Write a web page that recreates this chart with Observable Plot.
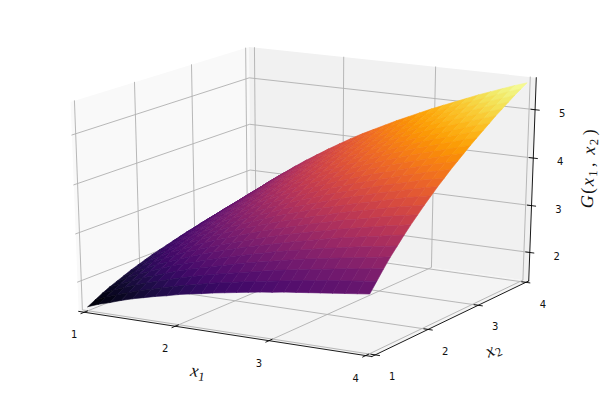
<!DOCTYPE html>
<html><head><meta charset="utf-8">
<style>html,body{margin:0;padding:0;background:#fff}svg{display:block}</style>
<script src="https://cdn.jsdelivr.net/npm/d3@7"></script>
<script src="https://cdn.jsdelivr.net/npm/@observablehq/plot@0.6"></script>
</head><body><div id="chart"></div>
<script>
const x1Values=[1,1.125,1.25,1.375,1.5,1.625,1.75,1.875,2,2.125,2.25,2.375,2.5,2.625,2.75,2.875,3,3.125,3.25,3.375,3.5,3.625,3.75,3.875,4];
const x2Values=[1,1.125,1.25,1.375,1.5,1.625,1.75,1.875,2,2.125,2.25,2.375,2.5,2.625,2.75,2.875,3,3.125,3.25,3.375,3.5,3.625,3.75,3.875,4];
// G(x1,x2); one row per x1, one column per x2
const G=[
[1.47,1.55,1.63,1.70,1.76,1.82,1.88,1.93,1.98,2.03,2.07,2.11,2.15,2.19,2.23,2.26,2.30,2.33,2.36,2.39,2.42,2.44,2.47,2.50,2.52],
[1.56,1.65,1.73,1.80,1.88,1.94,2.00,2.06,2.12,2.17,2.22,2.26,2.31,2.35,2.39,2.43,2.47,2.50,2.54,2.57,2.60,2.63,2.66,2.69,2.72],
[1.63,1.73,1.82,1.90,1.98,2.05,2.12,2.18,2.24,2.30,2.35,2.40,2.45,2.50,2.54,2.59,2.63,2.67,2.70,2.74,2.78,2.81,2.84,2.88,2.91],
[1.71,1.81,1.91,2.00,2.08,2.16,2.23,2.30,2.36,2.42,2.48,2.54,2.59,2.64,2.69,2.73,2.78,2.82,2.86,2.90,2.94,2.98,3.01,3.05,3.08],
[1.78,1.89,1.99,2.08,2.17,2.25,2.33,2.40,2.47,2.54,2.60,2.66,2.72,2.77,2.82,2.87,2.92,2.97,3.01,3.06,3.10,3.14,3.18,3.21,3.25],
[1.84,1.95,2.06,2.16,2.26,2.34,2.43,2.50,2.58,2.65,2.71,2.78,2.84,2.90,2.95,3.01,3.06,3.11,3.15,3.20,3.25,3.29,3.33,3.37,3.41],
[1.90,2.02,2.13,2.24,2.34,2.43,2.52,2.60,2.68,2.75,2.82,2.89,2.95,3.01,3.07,3.13,3.19,3.24,3.29,3.34,3.39,3.43,3.48,3.52,3.56],
[1.95,2.08,2.20,2.31,2.41,2.51,2.60,2.69,2.77,2.85,2.92,2.99,3.06,3.13,3.19,3.25,3.31,3.37,3.42,3.47,3.52,3.57,3.62,3.67,3.71],
[2.01,2.14,2.26,2.38,2.49,2.59,2.68,2.77,2.86,2.94,3.02,3.09,3.17,3.24,3.30,3.37,3.43,3.49,3.54,3.60,3.65,3.70,3.75,3.80,3.85],
[2.06,2.19,2.32,2.44,2.55,2.66,2.76,2.85,2.95,3.03,3.11,3.19,3.27,3.34,3.41,3.48,3.54,3.60,3.66,3.72,3.78,3.83,3.88,3.94,3.99],
[2.10,2.25,2.38,2.50,2.62,2.73,2.83,2.93,3.03,3.12,3.20,3.28,3.36,3.44,3.51,3.58,3.65,3.71,3.78,3.84,3.90,3.95,4.01,4.06,4.12],
[2.15,2.30,2.43,2.56,2.68,2.80,2.90,3.01,3.11,3.20,3.29,3.37,3.45,3.53,3.61,3.68,3.75,3.82,3.89,3.95,4.01,4.07,4.13,4.19,4.24],
[2.19,2.34,2.48,2.62,2.74,2.86,2.97,3.08,3.18,3.28,3.37,3.46,3.54,3.62,3.70,3.78,3.85,3.92,3.99,4.06,4.12,4.18,4.25,4.30,4.36],
[2.23,2.39,2.53,2.67,2.80,2.92,3.04,3.15,3.25,3.35,3.45,3.54,3.63,3.71,3.79,3.87,3.95,4.02,4.09,4.16,4.23,4.29,4.36,4.42,4.48],
[2.27,2.43,2.58,2.72,2.86,2.98,3.10,3.21,3.32,3.43,3.52,3.62,3.71,3.80,3.88,3.96,4.04,4.12,4.19,4.26,4.33,4.40,4.47,4.53,4.59],
[2.31,2.47,2.63,2.77,2.91,3.04,3.16,3.28,3.39,3.50,3.60,3.70,3.79,3.88,3.97,4.05,4.13,4.21,4.29,4.36,4.43,4.50,4.57,4.64,4.70],
[2.34,2.51,2.67,2.82,2.96,3.09,3.22,3.34,3.45,3.56,3.67,3.77,3.87,3.96,4.05,4.14,4.22,4.30,4.38,4.46,4.53,4.60,4.67,4.74,4.81],
[2.38,2.55,2.71,2.87,3.01,3.15,3.27,3.40,3.52,3.63,3.74,3.84,3.94,4.04,4.13,4.22,4.31,4.39,4.47,4.55,4.63,4.70,4.77,4.84,4.91],
[2.41,2.59,2.75,2.91,3.06,3.20,3.33,3.46,3.58,3.69,3.80,3.91,4.01,4.11,4.21,4.30,4.39,4.47,4.56,4.64,4.72,4.79,4.87,4.94,5.01],
[2.44,2.62,2.79,2.95,3.10,3.25,3.38,3.51,3.63,3.75,3.87,3.98,4.08,4.18,4.28,4.38,4.47,4.56,4.64,4.73,4.81,4.89,4.96,5.04,5.11],
[2.47,2.66,2.83,2.99,3.15,3.29,3.43,3.56,3.69,3.81,3.93,4.04,4.15,4.25,4.35,4.45,4.54,4.64,4.72,4.81,4.89,4.97,5.05,5.13,5.21],
[2.50,2.69,2.87,3.03,3.19,3.34,3.48,3.62,3.75,3.87,3.99,4.10,4.21,4.32,4.42,4.52,4.62,4.71,4.80,4.89,4.98,5.06,5.14,5.22,5.30],
[2.53,2.72,2.90,3.07,3.23,3.38,3.53,3.67,3.80,3.93,4.05,4.17,4.28,4.39,4.49,4.59,4.69,4.79,4.88,4.97,5.06,5.15,5.23,5.31,5.39],
[2.56,2.75,2.94,3.11,3.27,3.43,3.57,3.72,3.85,3.98,4.11,4.22,4.34,4.45,4.56,4.66,4.77,4.86,4.96,5.05,5.14,5.23,5.31,5.40,5.48],
[2.59,2.78,2.97,3.15,3.31,3.47,3.62,3.76,3.90,4.03,4.16,4.28,4.40,4.51,4.62,4.73,4.83,4.93,5.03,5.13,5.22,5.31,5.40,5.48,5.56]];
const x1Ticks=[1,2,3,4],x2Ticks=[1,2,3,4],zTicks=[2,3,4,5];
const lim={x:[0.9375,4.0625],y:[0.9375,4.0625],z:[1.385,5.655]};
const el=20*Math.PI/180,az=-60*Math.PI/180,dist=10,Kx=3350,Ky=2195,tx=307,ty=194;
const n=[Math.cos(el)*Math.cos(az),Math.cos(el)*Math.sin(az),Math.sin(el)];
const norm=v=>{const l=Math.hypot(...v);return v.map(a=>a/l)};
const cross=(a,b)=>[a[1]*b[2]-a[2]*b[1],a[2]*b[0]-a[0]*b[2],a[0]*b[1]-a[1]*b[0]];
const U=norm(cross([0,0,1],n)),Vv=cross(n,U);
const dot=(a,b)=>a[0]*b[0]+a[1]*b[1]+a[2]*b[2];
function proj(x,y,z){
  const p=[(x-lim.x[0])/(lim.x[1]-lim.x[0])-.5,(y-lim.y[0])/(lim.y[1]-lim.y[0])-.5,(z-lim.z[0])/(lim.z[1]-lim.z[0])-.5];
  const q=[p[0]-dist*n[0],p[1]-dist*n[1],p[2]-dist*n[2]];
  const d=-dot(q,n);
  return {px:tx+Kx*dot(q,U)/d,py:ty-Ky*dot(q,Vv)/d,depth:d};
}
const [x0,x9]=lim.x,[y0,y9]=lim.y,[z0,z9]=lim.z;
function poly(id,pts,extra={}){return pts.map(p=>({id,...proj(...p),...extra}))}
const panes=[
 ...poly("left",[[x0,y0,z0],[x0,y9,z0],[x0,y9,z9],[x0,y0,z9]],{c:"#f9f9f9"}),
 ...poly("back",[[x0,y9,z0],[x9,y9,z0],[x9,y9,z9],[x0,y9,z9]],{c:"#f1f1f1"}),
 ...poly("floor",[[x0,y0,z0],[x9,y0,z0],[x9,y9,z0],[x0,y9,z0]],{c:"#f4f4f4"})];
const grid=[
 ...x1Ticks.flatMap(t=>poly("gx"+t,[[t,y0,z0],[t,y9,z0],[t,y9,z9]])),
 ...x2Ticks.flatMap(t=>poly("gy"+t,[[x9,t,z0],[x0,t,z0],[x0,t,z9]])),
 ...zTicks.flatMap(t=>poly("gz"+t,[[x0,y0,t],[x0,y9,t],[x9,y9,t]]))];
const axes=[
 ...poly("ax",[[x0,y0,z0],[x9,y0,z0]]),
 ...poly("ay",[[x9,y0,z0],[x9,y9,z0]]),
 ...poly("az",[[x9,y9,z0],[x9,y9,z9]])];
const dxT=(x9-x0)*0.014,dyT=(y9-y0)*0.018;
const ticks=[
 ...x1Ticks.flatMap(t=>poly("tx"+t,[[t,y0+dyT,z0],[t,y0-dyT,z0]])),
 ...x2Ticks.flatMap(t=>poly("ty"+t,[[x9-dxT,t,z0],[x9+dxT,t,z0]])),
 ...zTicks.flatMap(t=>poly("tz"+t,[[x9-dxT,y9,t],[x9+dxT,y9,t]]))];
const faces=[];
for(let i=0;i<x1Values.length-1;i++)for(let j=0;j<x2Values.length-1;j++){
  const cs=[[i,j],[i+1,j],[i+1,j+1],[i,j+1],[i,j]].map(([a,b])=>proj(x1Values[a],x2Values[b],G[a][b]));
  const v=(G[i][j]+G[i+1][j]+G[i+1][j+1]+G[i][j+1])/4;
  faces.push({id:i+"_"+j,cs,v,depth:d3.mean(cs,c=>c.depth)});
}
faces.sort((a,b)=>b.depth-a.depth);
const surf=faces.flatMap(f=>f.cs.map(c=>({id:f.id,v:f.v,px:c.px,py:c.py})));
const common={x:"px",y:"py"};
const tl={fontSize:10,fontFamily:"DejaVu Sans",fill:"#111",text:"t",...common};
const al={fontSize:18,fontFamily:"Liberation Serif",fill:"#111",text:"t",...common};
const plot=Plot.plot({width:600,height:400,margin:0,
 x:{domain:[0,600],range:[0,600],axis:null},
 y:{domain:[0,400],range:[0,400],axis:null},
 color:{type:"linear",scheme:"inferno",domain:[1.47,5.56]},
 style:{background:"#fff"},
 marks:[
  Plot.line(panes,{...common,z:"id",fill:d=>d.c,stroke:null}),
  Plot.line(grid,{...common,z:"id",stroke:"#b0b0b0",strokeWidth:.9}),
  Plot.line(axes,{...common,z:"id",stroke:"#000",strokeWidth:.9}),
  Plot.line(ticks,{...common,z:"id",stroke:"#000",strokeWidth:.9}),
  Plot.line(surf,{...common,z:"id",fill:"v",stroke:"v",strokeWidth:.6}),
  Plot.text(x1Ticks.map(t=>({t:String(t),...proj(t,y0,z0)})),{...tl,dx:-10,dy:23}),
  Plot.text(x2Ticks.map(t=>({t:String(t),...proj(x9,t,z0)})),{...tl,dx:17,dy:22}),
  Plot.text(zTicks.map(t=>({t:String(t),...proj(x9,y9,t)})),{...tl,dx:27,dy:4}),
  Plot.text([{t:"x1",...proj(2.5,y0,z0)}],{...al,dx:-23,dy:38,rotate:9}),
  Plot.text([{t:"x2",...proj(x9,2.5,z0)}],{...al,dx:40,dy:32,rotate:-24}),
  Plot.text([{t:"G(x1,x2)",...proj(x9,y9,(z0+z9)/2)}],{...al,dx:56,dy:-13,rotate:-88})
 ]});
const it=s=>`<tspan font-style="italic">${s}</tspan>`;
const sub=s=>`<tspan dy="3" font-size="12.5">${s}</tspan><tspan dy="-3" font-size="1"> </tspan>`;
const rich={"x1":it("x")+sub("1"),"x2":it("x")+sub("2"),"G(x1,x2)":it("G")+"("+it("x")+sub("1")+", "+it("x")+sub("2")+")"};
plot.querySelectorAll("text").forEach(t=>{const k=t.textContent,r=rich[k];if(r){t.innerHTML=r;t.setAttribute("letter-spacing",k.length>2?"1.6":"0.6");}});
document.getElementById("chart").append(plot);
</script></body></html>
